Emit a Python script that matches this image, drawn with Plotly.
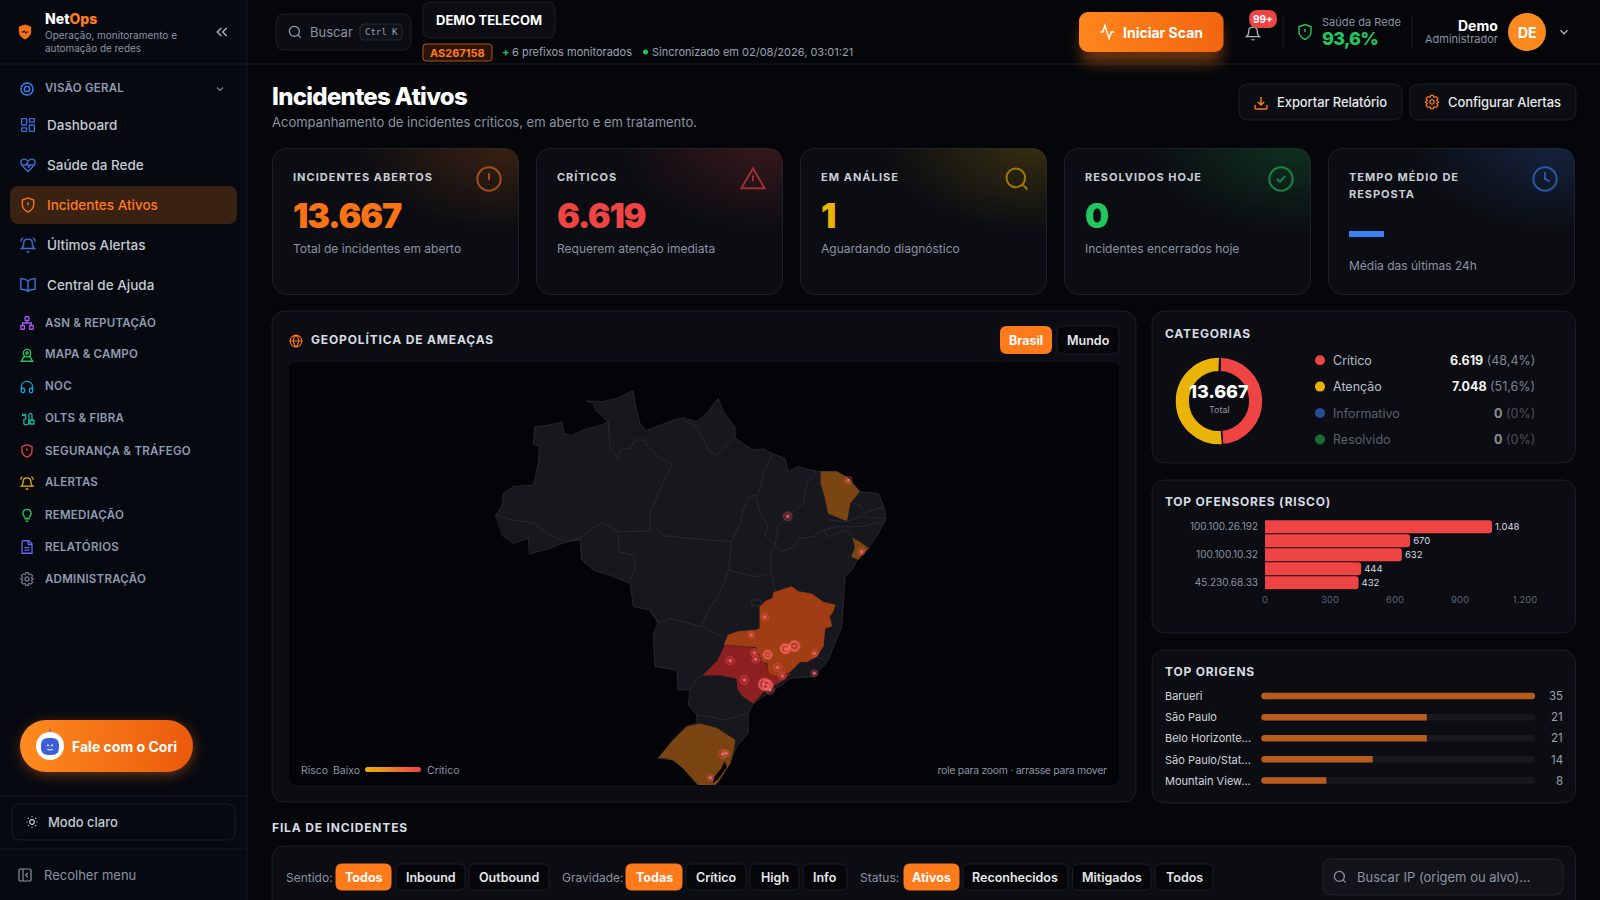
import base64, json, re
import plotly.graph_objects as go

W, H = 1600, 900
FONT = "Inter"

# ---------- data ----------
KPI_TITLES = [["INCIDENTES ABERTOS"], ["CRÍTICOS"], ["EM ANÁLISE"], ["RESOLVIDOS HOJE"], ["TEMPO MÉDIO DE", "RESPOSTA"]]
KPI_VALUES = ["13.667", "6.619", "1", "0", ""]
KPI_SUBS = ["Total de incidentes em aberto", "Requerem atenção imediata", "Aguardando diagnóstico",
            "Incidentes encerrados hoje", "Média das últimas 24h"]

CAT_NAMES = ["Crítico", "Atenção", "Informativo", "Resolvido"]
CAT_VALUES = [6619, 7048, 0, 0]
CAT_PCT = ["48,4%", "51,6%", "0%", "0%"]
CAT_TOTAL = "13.667"

OFF_IPS = ["100.100.26.192", "ofensor 2", "100.100.10.32", "ofensor 4", "45.230.68.33"]
OFF_TICKS = ["100.100.26.192", "100.100.10.32", "45.230.68.33"]
OFF_VALUES = [1048, 670, 632, 444, 432]
OFF_XTICKS = [0, 300, 600, 900, 1200]

ORIGIN_NAMES = ["Barueri", "São Paulo", "Belo Horizonte...", "São Paulo/Stat...", "Mountain View..."]
ORIGIN_VALUES = [35, 21, 21, 14, 8]

NAV_MAIN = ["Dashboard", "Saúde da Rede", "Incidentes Ativos", "Últimos Alertas", "Central de Ajuda"]
NAV_SECTIONS = ["ASN & REPUTAÇÃO", "MAPA & CAMPO", "NOC", "OLTS & FIBRA", "SEGURANÇA & TRÁFEGO",
                "ALERTAS", "REMEDIAÇÃO", "RELATÓRIOS", "ADMINISTRAÇÃO"]

# map outlines, in map units
BR_X = [75,95,100,130,190,205,208,190,195,240,275,282,305,345,395,415,380,368,350,400,440,470,490,495,510,528,570,610,640,680,710,745,760,795,795,850,880,910,945,955,985,1020,1050,1100,1135,1170,1225,1245,1247,1225,1195,1165,1145,1125,1120,1115,1095,1075,1050,1035,960,935,895,850,835,835,800,780,745,712,680,640,610,565,610,650,680,680,655,660,625,620,555,550,565,540,490,480,430,370,335,330,290,240,178,175,130,95]
BR_Y = [440,410,370,350,345,280,230,222,170,165,155,190,197,178,165,155,125,98,93,95,85,70,62,100,160,182,165,150,143,155,130,85,125,172,205,240,237,252,265,305,290,300,305,305,325,365,370,420,450,490,535,565,600,620,700,770,820,870,900,920,925,945,970,1000,1030,1090,1130,1180,1230,1265,1240,1195,1170,1165,1110,1070,1060,1035,1005,960,960,900,890,790,760,720,710,640,620,600,570,510,515,535,552,505,520,495]
MG_X = [910,965,985,1025,1060,1095,1090,1078,1085,1065,1062,1060,1040,1010,990,960,920,905,895,893,875,858,820,790,762,775,805,860,870,870,885,907]
MG_Y = [668,650,665,672,697,705,722,740,768,775,800,828,860,875,875,905,920,918,905,880,875,830,828,825,825,795,785,780,775,710,695,685]
SP_X = [765,810,860,875,890,895,920,960,940,905,880,850,820,805,800,750,700,740]
SP_Y = [825,830,835,875,885,910,920,910,930,950,965,1000,980,960,925,915,915,875]
CE_X = [1052,1100,1135,1168,1140,1130,1100,1075,1065,1052]
CE_Y = [305,305,325,365,400,452,440,430,380,335]
SE_X = [1148,1175,1195,1165,1145,1155]
SE_Y = [505,520,535,568,560,535]
RS_X = [565,610,650,690,740,795,790,780,745,712,680,640,610,590]
RS_Y = [1165,1110,1070,1062,1075,1110,1140,1180,1235,1265,1240,1195,1170,1165]
LAGOON_X = [765,755,735,730,745,770]
LAGOON_Y = [1175,1195,1220,1238,1225,1190]
BORDER_X = [75,130,190,230,290,None, 290,330,370,395,420,445,None, 445,445,490,497,480,None, 445,540,540,570,605,560,530,525,None,
            415,420,445,450,480,495,525,None, 640,680,715,740,790,None, 555,580,680,785,None, 785,810,820,835,865,880,905,None,
            860,870,895,885,915,None, 1040,1010,1000,965,925,915,None, 915,935,975,985,1030,1060,None, 915,900,905,None,
            775,810,860,905,None, 785,775,None, 775,750,710,695,None, 540,565,600,670,695,None, 695,760,None, 905,915,None,
            1060,1075,1130,1150,None, 1150,1170,1180,1240,None, 1075,1130,1170,1245,None, 1060,1100,1170,1240,None, 1040,1065,None,
            660,680,700,None, 680,720,760,835,None, 845,872,872,845,845]
BORDER_Y = [435,450,458,490,515,None, 515,505,475,460,470,485,None, 485,545,555,590,630,None, 485,483,430,360,285,255,225,210,None,
            155,235,265,240,235,210,210,None, 150,170,240,255,205,None, 470,497,507,515,None, 515,460,420,380,375,310,255,None,
            385,430,465,495,525,None, 305,340,400,430,465,525,None, 525,545,530,505,500,480,None, 525,560,610,None,
            600,610,620,610,None, 515,600,None, 600,670,730,770,None, 720,760,745,765,770,None, 770,800,None, 610,670,None,
            480,500,480,505,None, 400,405,430,410,None, 450,455,440,445,None, 480,470,470,455,None, 860,870,None,
            960,925,915,None, 1035,1040,1050,1030,None, 690,690,707,707,690]
PT_X = [1135,953,1175,884,844,781,853,857,893,945,950,973,923,937,1033,1033,823,900,883,892,758,768,721]
PT_Y = [331,439,545,741,795,872,848,868,854,836,837,828,892,918,850,910,930,960,943,945,1152,1150,1223]
PT_RISK = [3,4,2,3,2,4,3,3,5,6,4,7,4,3,2,2,4,4,8,7,4,2,2]

# ---------- helpers ----------
NUM = re.compile(r"-?\d+\.?\d*")

def to_paper(d, fx=lambda v: v, fy=lambda v: v):
    i = [0]
    def rep(m):
        v = float(m.group())
        i[0] += 1
        if i[0] % 2:
            return f"{fx(v) / W:.5f}"
        return f"{1 - fy(v) / H:.5f}"
    return NUM.sub(rep, d)

def rr(x0, y0, x1, y1, r):
    return (f"M{x0+r} {y0} L{x1-r} {y0} Q{x1} {y0} {x1} {y0+r} L{x1} {y1-r} Q{x1} {y1} {x1-r} {y1} "
            f"L{x0+r} {y1} Q{x0} {y1} {x0} {y1-r} L{x0} {y0+r} Q{x0} {y0} {x0+r} {y0} Z")

shapes, annotations, images = [], [], []
FIT = {}   # "text|size" -> [measured width of that label in the reference, anchor]

def box(x0, y0, x1, y1, r=0, fill="rgba(0,0,0,0)", line="rgba(0,0,0,0)", lw=1, layer="below"):
    shapes.append(dict(type="path", xref="paper", yref="paper", path=to_paper(rr(x0, y0, x1, y1, r)),
                       fillcolor=fill, line=dict(color=line, width=lw), layer=layer))

def hline(x0, y0, x1, y1, color, lw=1):
    shapes.append(dict(type="line", xref="paper", yref="paper", x0=x0/W, x1=x1/W, y0=1-y0/H, y1=1-y1/H,
                       line=dict(color=color, width=lw), layer="below"))

def T(x, y, text, size=13, color="#c9ced8", weight=400, anchor="left", family=FONT, fit=None):
    annotations.append(dict(xref="paper", yref="paper", x=x/W, y=1-y/H, text=text, showarrow=False,
                            xanchor=anchor, yanchor="middle", borderpad=0, borderwidth=0,
                            font=dict(family=family, size=size, color=color, weight=weight)))
    if fit:
        FIT[f"{text}|{size}"] = [fit, anchor]

def circ(cx, cy, r):
    k = 0.5523 * r
    return (f"M{cx+r} {cy} C{cx+r} {cy+k} {cx+k} {cy+r} {cx} {cy+r} C{cx-k} {cy+r} {cx-r} {cy+k} {cx-r} {cy} "
            f"C{cx-r} {cy-k} {cx-k} {cy-r} {cx} {cy-r} C{cx+k} {cy-r} {cx+r} {cy-k} {cx+r} {cy} Z")

def icon(d, cx, cy, size, color, lw=1.5, fill="rgba(0,0,0,0)", opacity=1):
    s = size / 24
    shapes.append(dict(type="path", xref="paper", yref="paper",
                       path=to_paper(d, lambda v: cx + (v-12)*s, lambda v: cy + (v-12)*s),
                       fillcolor=fill, line=dict(color=color, width=lw), layer="above", opacity=opacity))

def svg(inner, x, y, w, h):
    s = f'<svg xmlns="http://www.w3.org/2000/svg" width="{w}" height="{h}" viewBox="0 0 {w} {h}">{inner}</svg>'
    images.append(dict(source="data:image/svg+xml;base64," + base64.b64encode(s.encode()).decode(),
                       xref="paper", yref="paper", x=x/W, y=1-y/H, sizex=w/W, sizey=h/H,
                       xanchor="left", yanchor="top", sizing="stretch", layer="above", opacity=1))

SHIELD = "M12 22 C12 22 20 18 20 12 L20 5 L12 2 L4 5 L4 12 C4 18 12 22 12 22 Z"
I_SHIELD_A = SHIELD + " M12 8 L12 12 M12 16 L12 16.2"
I_EYE = circ(12, 12, 9) + " " + circ(12, 12, 4)
I_DASH = rr(3,3,10,12,1) + " " + rr(14,3,21,8,1) + " " + rr(14,12,21,21,1) + " " + rr(3,16,10,21,1)
I_HEART = "M12 21 C5 15 2 12 2 8 C2 3 9 2 12 7 C15 2 22 3 22 8 C22 12 19 15 12 21 Z M3 12 L9 12 L11 9 L13 15 L15 12 L21 12"
I_BELL = "M6 9 C6 2 18 2 18 9 C18 15 21 17 21 17 L3 17 C3 17 6 15 6 9 Z M10 21 C11 22 13 22 14 21"
I_BELL2 = I_BELL + " M2 7 C2 5 3 3 5 2 M22 7 C22 5 21 3 19 2"
I_BOOK = "M12 7 C10 4 6 3 2 3 L2 18 C6 18 10 19 12 21 C14 19 18 18 22 18 L22 3 C18 3 14 4 12 7 Z M12 7 L12 21"
I_NET = rr(9,2,15,8,1) + " " + rr(2,16,8,22,1) + " " + rr(16,16,22,22,1) + " M12 8 L12 12 M5 16 L5 12 L19 12 L19 16"
I_MAP = circ(12, 9, 6) + " " + circ(12, 9, 2) + " M7 15 L3 22 L21 22 L17 15 Z"
I_HEAD = "M3 15 L3 12 C3 0 21 0 21 12 L21 15 " + rr(3,14,8,21,2) + " " + rr(16,14,21,21,2)
I_CABLE = "M5 3 L5 6 M9 3 L9 6 M4 6 L10 6 L10 10 C10 12 8 13 7 13 L7 19 C7 22 15 22 15 18 L15 6 C15 2 20 2 20 6 L20 14 M17 14 L23 14 L23 20 L17 20 Z"
I_BULB = "M8 15 C3 10 6 3 12 3 C18 3 21 10 16 15 C15 16 15 17 15 18 L9 18 C9 17 9 16 8 15 Z M10 22 L14 22"
I_DOC = "M6 2 L15 2 L20 7 L20 22 L4 22 L4 4 Q4 2 6 2 Z M14 2 L14 8 L20 8 M8 13 L16 13 M8 17 L16 17"
GEAR_PTS = "M10 2 L14 2 L15 5 L18 4 L21 7 L19 10 L22 12 L19 14 L21 17 L18 20 L15 19 L14 22 L10 22 L9 19 L6 20 L3 17 L5 14 L2 12 L5 10 L3 7 L6 4 L9 5 Z"
I_GEAR = GEAR_PTS + " " + circ(12, 12, 3.2)
I_CHEV = "M6 9 L12 15 L18 9"
I_DCHEV = "M11 6 L5 12 L11 18 M19 6 L13 12 L19 18"
I_SEARCH = circ(11, 11, 8) + " M21 21 L16.6 16.6"
I_DOWN = "M12 3 L12 15 M7 10 L12 15 L17 10 M3 15 L3 19 Q3 21 5 21 L19 21 Q21 21 21 19 L21 15"
I_ACT = "M2 12 L6 12 L9 3 L15 21 L18 12 L22 12"
I_CHECK = circ(12, 12, 10) + " M8.5 12 L11 14.5 L15.5 9.5"
I_WARN = "M12 3 L22 20 L2 20 Z M12 9 L12 14 M12 17 L12 17.2"
I_CLOCK = circ(12, 12, 10) + " M12 6 L12 12 L16 14"
I_ALERT = circ(12, 12, 10) + " M12 7 L12 13 M12 16.5 L12 16.7"
I_GLOBE = circ(12, 12, 10) + " " + "M12 2 C6 8 6 16 12 22 C18 16 18 8 12 2 Z M2 12 L22 12"
I_SUN = circ(12, 12, 4) + " M12 2 L12 4 M12 20 L12 22 M2 12 L4 12 M20 12 L22 12 M5 5 L6.5 6.5 M17.5 17.5 L19 19 M5 19 L6.5 17.5 M17.5 6.5 L19 5"
I_PANEL = rr(3,3,21,21,2) + " M9 3 L9 21 M16 9 L13 12 L16 15"

# ---------- base ----------
PAGE = "#04060a"
SIDE = "#060910"
CARD = "#0b0d12"
EDGE = "#1c1f27"
MUTED = "#8a93a3"
ORANGE = "#ff7a1a"

box(0, 0, 247, H, fill=SIDE)
hline(247, 0, 247, H, "#171a21")
hline(0, 64, W, 64, "#171a21")

# ---------- sidebar ----------
icon(SHIELD, 25, 32, 17, "#f97316", 1, fill="#f97316")
icon("M7 12 L10 12 L11 10 L13 14 L14 12 L17 12", 25, 32, 17, "#0b0d12", 1)
T(45, 19, 'Net<span style="color:#ff7a1a">Ops</span>', 14, "#ffffff", 800)
T(45, 34.5, "Operação, monitoramento e", 10, MUTED, fit=132)
T(45, 47.5, "automação de redes", 10, MUTED, fit=96)
icon(I_DCHEV, 222, 32, 16, "#aab2c0", 1.4)

icon(I_EYE, 27, 89, 16, "#3b82f6", 1.4)
T(45, 88, "VISÃO GERAL", 11.5, "#8f9bb0", 600, fit=79)
icon(I_CHEV, 220, 89, 12, "#7b8494", 1.2)

box(10, 186, 237, 224, 9, fill="#3a2212")
NAV_ICONS = [I_DASH, I_HEART, I_SHIELD_A, I_BELL2, I_BOOK]
for i, name in enumerate(NAV_MAIN):
    y = 125 + 40 * i
    active = name == "Incidentes Ativos"
    icon(NAV_ICONS[i], 28, y, 17, "#f97316" if active else "#3b6fd4", 1.4)
    T(47, y, name, 13.5, "#ff7a1a" if active else "#c3c9d4", 500)

SEC_ICONS = [I_NET, I_MAP, I_HEAD, I_CABLE, I_SHIELD_A, I_BELL2, I_BULB, I_DOC, I_GEAR]
SEC_COLORS = ["#a855f7", "#22c55e", "#0ea5e9", "#14b8a6", "#ef4444", "#eab308", "#22c55e", "#6366f1", "#6b7280"]
SEC_FIT = [111, 93, 27, 79, 146, 53, 79, 74, 101]
for i, name in enumerate(NAV_SECTIONS):
    y = 322 + 32 * i
    icon(SEC_ICONS[i], 27, y + 1, 15, SEC_COLORS[i], 1.3)
    T(45, y, name, 11.5, "#8f9bb0", 600, fit=SEC_FIT[i])

svg('<defs><linearGradient id="g" x1="0" x2="1"><stop offset="0" stop-color="#ff8a1f"/><stop offset="1" stop-color="#ea5a0c"/></linearGradient>'
    '<filter id="b" x="-20%" y="-50%" width="140%" height="200%"><feGaussianBlur stdDeviation="7"/></filter></defs>'
    '<rect x="22" y="24" width="171" height="50" rx="25" fill="#f97316" opacity=".45" filter="url(#b)"/>'
    '<rect x="20" y="20" width="173" height="52" rx="26" fill="url(#g)"/>', 0, 700, 214, 96)
shapes.append(dict(type="circle", xref="paper", yref="paper", x0=36/W, x1=64/W, y0=1-732/H, y1=1-760/H,
                   fillcolor="#ffffff", line=dict(width=0), layer="above"))
box(41, 738, 59, 755, 7, fill="#3f5fd8", layer="above")
icon("M12 0 L12 -5", 50, 737.5, 12, "#3f5fd8", 1.2)
icon(circ(9, 11, 1) + " " + circ(15, 11, 1) + " M8 17 Q12 19 16 17", 50, 746, 16, "#ffffff", 1)
T(72, 746, "Fale com o Cori", 14, "#ffffff", 700, fit=105)

hline(0, 796, 247, 796, "#171a21")
box(12, 804, 235, 840, 9, line="#1c1f27")
icon(I_SUN, 32, 822, 14, "#c3c9d4", 1.2)
T(48, 822, "Modo claro", 13, "#c3c9d4", 500)
hline(0, 849, 247, 849, "#171a21")
icon(I_PANEL, 25, 875, 16, "#8a93a3", 1.2)
T(44, 875, "Recolher menu", 13, MUTED, 400)

# ---------- top bar ----------
box(276, 14, 411, 50, 9, fill="#0b0d12", line=EDGE)
icon(I_SEARCH, 295, 32, 15, "#9aa2b1", 1.3)
T(310, 32, "Buscar", 13, MUTED)
box(360, 24, 402, 40, 4, fill="#0f1218", line="#262a33")
T(381, 32, "Ctrl K", 9, "#9aa2b1", 400, "center", "DejaVu Sans Mono")
box(423, 2, 555, 38, 8, fill="#0b0d12", line=EDGE)
T(489, 20, "DEMO TELECOM", 13, "#ffffff", 700, "center", fit=106)
box(423, 44, 492, 61, 3, fill="#2a1408", line="#b4521a")
T(457.5, 52.5, "AS267158", 11, ORANGE, 700, "center")
T(502, 52, "+", 11, "#22c55e", 700)
T(512, 52, "6 prefixos monitorados", 11, "#98a2b3")
shapes.append(dict(type="circle", xref="paper", yref="paper", x0=643/W, x1=648/W, y0=1-49.5/H, y1=1-54.5/H,
                   fillcolor="#22c55e", line=dict(width=0), layer="below"))
T(652, 52, "Sincronizado em 02/08/2026, 03:01:21", 11, "#98a2b3")

svg('<defs><linearGradient id="g" x1="0" x2="1"><stop offset="0" stop-color="#ff861c"/><stop offset="1" stop-color="#f2650f"/></linearGradient>'
    '<filter id="b" x="-20%" y="-50%" width="140%" height="200%"><feGaussianBlur stdDeviation="7"/></filter></defs>'
    '<rect x="22" y="22" width="141" height="42" rx="9" fill="#f97316" opacity=".4" filter="url(#b)"/>'
    '<rect x="20" y="12" width="144.5" height="40" rx="9" fill="url(#g)"/>', 1059, 0, 185, 80)
icon(I_ACT, 1107, 32, 17, "#ffffff", 1.5)
T(1163, 32, "Iniciar Scan", 14, "#ffffff", 700, "center", fit=80)

icon(I_BELL, 1253, 33, 17, "#aab2c0", 1.3)
box(1249, 10, 1277, 28, 9, fill="#ef4444", layer="above")
T(1263, 19, "99+", 10, "#ffffff", 700, "center")
hline(1283, 16, 1283, 48, "#171a21")
icon(I_SHIELD_A, 1305, 32, 18, "#22c55e", 1.4)
T(1322, 22, "Saúde da Rede", 11, MUTED, fit=79)
T(1322, 38, "93,6%", 18, "#22c55e", 800, fit=56)
hline(1412, 16, 1412, 48, "#171a21")
T(1498, 25, "Demo", 14, "#ffffff", 700, "right")
T(1498, 39, "Administrador", 11, MUTED, 400, "right")
shapes.append(dict(type="circle", xref="paper", yref="paper", x0=1508/W, x1=1546/W, y0=1-13/H, y1=1-51/H,
                   fillcolor="#fb8a1e", line=dict(width=0), layer="below"))
T(1527, 32, "DE", 14, "#ffffff", 700, "center")
icon(I_CHEV, 1564, 32, 14, "#aab2c0", 1.3)

# ---------- page header ----------
T(272, 96, "Incidentes Ativos", 24, "#ffffff", 800, fit=195)
T(272, 122, "Acompanhamento de incidentes críticos, em aberto e em tratamento.", 13, MUTED, fit=425)
box(1239, 84, 1402, 120, 9, fill="#0b0d12", line=EDGE)
icon(I_DOWN, 1261, 103, 16, ORANGE, 1.4)
T(1277, 102, "Exportar Relatório", 13, "#e5e7eb", 500, fit=110)
box(1410, 84, 1576, 120, 9, fill="#0b0d12", line=EDGE)
icon(I_GEAR, 1432, 102, 16, ORANGE, 1.2)
T(1448, 102, "Configurar Alertas", 13, "#e5e7eb", 500, fit=113)

# ---------- KPI cards ----------
CARD_X = [272, 536, 800, 1064, 1328]
CARD_COLORS = ["#f97316", "#ef4444", "#eab308", "#22c55e", "#3b82f6"]
CARD_ICONS = [I_ALERT, I_WARN, I_SEARCH, I_CHECK, I_CLOCK]
KPI_TITLE_FIT = [[140], [60], [78], [117], [110, 66]]
KPI_VALUE_FIT = [108, 88, None, None, None]
for i, x in enumerate(CARD_X):
    c = CARD_COLORS[i]
    svg(f'<defs><radialGradient id="g" cx="0.95" cy="-0.05" r="0.62"><stop offset="0" stop-color="{c}" stop-opacity=".2"/>'
        f'<stop offset="1" stop-color="{c}" stop-opacity="0"/></radialGradient></defs>'
        f'<rect x=".5" y=".5" width="246" height="146" rx="14" fill="{CARD}" stroke="{EDGE}"/>'
        f'<rect x=".5" y=".5" width="246" height="146" rx="14" fill="url(#g)"/>', x, 148, 247, 147)
    icon(CARD_ICONS[i], x + 217, 179, 28, c, 2, opacity=.6)
    for j, line in enumerate(KPI_TITLES[i]):
        T(x + 21, 177 + 17 * j, line, 11, "#c9ced8", 700, fit=KPI_TITLE_FIT[i][j])
    if KPI_VALUES[i]:
        T(x + 21, 215, KPI_VALUES[i], 34, c, 900, fit=KPI_VALUE_FIT[i])
        T(x + 21, 248, KPI_SUBS[i], 12, MUTED)
    else:
        box(x + 21, 231, x + 56, 237, fill=c, layer="above")
        T(x + 21, 265, KPI_SUBS[i], 12, MUTED)

# ---------- map panel ----------
box(272, 311, 1136, 802, 14, fill=CARD, line=EDGE)
box(289, 362, 1119, 785, 8, fill="#030407")
icon(I_GLOBE, 296, 341, 14, ORANGE, 1.1)
T(311, 339.5, "GEOPOLÍTICA DE AMEAÇAS", 12, "#d7dce5", 700, fit=183)
box(1000, 326, 1052, 354, 7, fill=ORANGE)
T(1026, 340, "Brasil", 12.5, "#ffffff", 700, "center")
box(1057, 326, 1119, 354, 7, fill="#050609", line=EDGE)
T(1088, 340, "Mundo", 12.5, "#e5e7eb", 600, "center")
T(301, 770, "Risco", 10.5, MUTED)
T(333, 770, "Baixo", 10.5, MUTED)
svg('<defs><linearGradient id="g" x1="0" x2="1"><stop offset="0" stop-color="#eab308"/><stop offset="1" stop-color="#ef4444"/></linearGradient></defs>'
    '<rect width="56" height="5" rx="2.5" fill="url(#g)"/>', 365, 767, 56, 5)
T(427, 770, "Crítico", 10.5, MUTED)
T(1107, 770, "role para zoom · arrasse para mover", 10.5, MUTED, 400, "right", fit=169)

# ---------- right panels ----------
box(1152, 311, 1575.5, 463, 14, fill=CARD, line=EDGE)
T(1165, 333, "CATEGORIAS", 12, "#d7dce5", 700, fit=86)
CAT_COLORS = ["#ef4444", "#eab308", "#2a4a96", "#1a6b36"]
for i, name in enumerate(CAT_NAMES):
    y = 360.2 + 26.4 * i
    dim = CAT_VALUES[i] == 0
    shapes.append(dict(type="circle", xref="paper", yref="paper", x0=1315/W, x1=1325/W, y0=1-(y-5)/H, y1=1-(y+5)/H,
                       fillcolor=CAT_COLORS[i], line=dict(width=0), layer="below"))
    T(1333, y, name, 12.5, "#5a606c" if dim else "#b8bfca")
    val = f"{CAT_VALUES[i]:,}".replace(",", ".")
    T(1534.5, y, f'<b>{val}</b> <span style="color:{"#4b505a" if dim else "#7b8494"}">({CAT_PCT[i]})</span>',
      12.5, "#8a8f99" if dim else "#f3f4f6", 400, "right")
T(1219, 392, CAT_TOTAL, 18, "#ffffff", 800, "center")
T(1219, 409.5, "Total", 9, MUTED, 400, "center")

box(1152, 480, 1575.5, 633, 14, fill=CARD, line=EDGE)
T(1165, 501, "TOP OFENSORES (RISCO)", 12, "#d7dce5", 700, fit=166)
box(1152, 650, 1575.5, 803, 14, fill=CARD, line=EDGE)
T(1165, 671, "TOP ORIGENS", 12, "#d7dce5", 700, fit=90)
ROW_Y = [696, 717, 738, 759.5, 780.5]
for y, name, val in zip(ROW_Y, ORIGIN_NAMES, ORIGIN_VALUES):
    T(1165, y, name, 11, "#d1d5db")
    T(1563, y, str(val), 11.5, "#9aa2b1", 400, "right")

# ---------- queue ----------
T(272, 827, "FILA DE INCIDENTES", 12, "#d7dce5", 700, fit=136)
box(272, 846, 1575.5, 930, 14, fill=CARD, line=EDGE)
T(285.5, 877, "Sentido:", 12, MUTED)
T(562, 877, "Gravidade:", 12, MUTED)
T(860, 877, "Status:", 12, MUTED)
CHIPS = [("Todos", 336, 391, True), ("Inbound", 396, 465, False), ("Outbound", 469, 549, False),
         ("Todas", 626, 682, True), ("Crítico", 686, 746, False), ("High", 750, 799, False), ("Info", 803, 847, False),
         ("Ativos", 904, 959, True), ("Reconhecidos", 963, 1068, False), ("Mitigados", 1072.5, 1151, False), ("Todos", 1155, 1213, False)]
for label, x0, x1, on in CHIPS:
    box(x0, 864, x1, 890, 6, fill=ORANGE if on else "#050609", line=ORANGE if on else EDGE)
    T((x0 + x1) / 2, 877, label, 12.5, "#ffffff" if on else "#e5e7eb", 700 if on else 600, "center")
box(1323, 859, 1563, 895, 9, fill="#12141a", line="#23262e")
icon(I_SEARCH, 1340, 877, 15, MUTED, 1.3)
T(1357, 877, "Buscar IP (origem ou alvo)...", 13, MUTED)

# ---------- traces ----------
fig = go.Figure()
NOHOVER = dict(hoverinfo="skip", showlegend=False)
LAND, LINE = "#17181e", "#2c2d34"

def poly(xs, ys, fill):
    fig.add_trace(go.Scatter(x=xs, y=ys, mode="lines", fill="toself", fillcolor=fill,
                             line=dict(color=LINE if fill == LAND else fill, width=0.8), xaxis="x", yaxis="y", **NOHOVER))

poly(BR_X, BR_Y, LAND)
fig.add_trace(go.Scatter(x=BORDER_X, y=BORDER_Y, mode="lines", line=dict(color=LINE, width=0.8), xaxis="x", yaxis="y", **NOHOVER))
poly(MG_X, MG_Y, "#a03d14")
poly(SP_X, SP_Y, "#8c1f20")
poly(CE_X, CE_Y, "#7a4512")
poly(SE_X, SE_Y, "#7a4512")
poly(RS_X, RS_Y, "#7a4512")
poly(LAGOON_X, LAGOON_Y, "#030407")
# halo, then a bright ring on the heaviest sites, then the dot
fig.add_trace(go.Scatter(x=PT_X, y=PT_Y, mode="markers", xaxis="x", yaxis="y",
                         marker=dict(size=[5 + 1.0 * r for r in PT_RISK], color="rgba(239,68,68,0.38)",
                                     line=dict(width=0.7, color="rgba(248,113,113,0.55)")), **NOHOVER))
fig.add_trace(go.Scatter(x=PT_X, y=PT_Y, mode="markers", xaxis="x", yaxis="y",
                         marker=dict(size=[2 + 1.0 * r for r in PT_RISK], color="rgba(0,0,0,0)",
                                     line=dict(width=1.8, color=["rgba(255,110,115,0.95)" if r >= 5 else "rgba(0,0,0,0)" for r in PT_RISK])),
                         **NOHOVER))
fig.add_trace(go.Scatter(x=PT_X, y=PT_Y, mode="markers", xaxis="x", yaxis="y",
                         marker=dict(size=[3.5 if r < 5 else 2.5 for r in PT_RISK], color="#ff7379", line=dict(width=0)), **NOHOVER))

fig.add_trace(go.Pie(labels=CAT_NAMES, values=CAT_VALUES, hole=0.667, sort=False, direction="clockwise", rotation=1,
                     marker=dict(colors=CAT_COLORS, line=dict(color=CARD, width=1.5)), textinfo="none", hoverinfo="skip",
                     showlegend=False, domain=dict(x=[1175/W, 1263/W], y=[1-445/H, 1-357/H])))

fig.add_trace(go.Bar(y=OFF_IPS, x=OFF_VALUES, orientation="h", marker=dict(color="#ef4444", cornerradius=3, line=dict(width=0)),
                     width=0.92, text=OFF_VALUES, texttemplate="%{x:,}", textposition="outside", cliponaxis=False,
                     textfont=dict(family=FONT, size=9.5, color="#d7dce5"), xaxis="x2", yaxis="y2", **NOHOVER))

fig.add_trace(go.Bar(y=ORIGIN_NAMES, x=[max(ORIGIN_VALUES)] * len(ORIGIN_VALUES), orientation="h",
                     marker=dict(color="#17191f", cornerradius=3, line=dict(width=0)), width=0.31, xaxis="x3", yaxis="y3", **NOHOVER))
fig.add_trace(go.Bar(y=ORIGIN_NAMES, x=ORIGIN_VALUES, orientation="h",
                     marker=dict(color="#b85c1e", cornerradius=3, line=dict(width=0)), width=0.31, xaxis="x3", yaxis="y3", **NOHOVER))
fig.add_trace(go.Scatter(y=ORIGIN_NAMES, x=[0] * len(ORIGIN_NAMES), mode="markers", cliponaxis=False,
                         marker=dict(color="#b85c1e", size=6.5, line=dict(width=0)), xaxis="x3", yaxis="y3", **NOHOVER))

hidden = dict(visible=False, fixedrange=True)
fig.update_layout(
    template="none",
    width=W, height=H, margin=dict(l=0, r=0, t=0, b=0, pad=0), autosize=False,
    paper_bgcolor=PAGE, plot_bgcolor="rgba(0,0,0,0)",
    font=dict(family=FONT, color="#c9ced8"), separators=",.", barmode="overlay", showlegend=False,
    shapes=shapes, annotations=annotations, images=images,
    xaxis=dict(domain=[289/W, 1119/W], range=[-543, 1947], **hidden),
    yaxis=dict(domain=[1-785/H, 1-362/H], range=[1245, -24], **hidden),
    xaxis2=dict(domain=[1265/W, 1525/W], range=[0, 1200], tickvals=OFF_XTICKS, tickformat=",", showgrid=False, zeroline=False,
                showline=False, ticks="", ticklabelstandoff=3, tickfont=dict(family=FONT, size=9.5, color="#5b6472"),
                anchor="y2", fixedrange=True),
    yaxis2=dict(domain=[1-589.7/H, 1-519.7/H], autorange="reversed", type="category", tickvals=OFF_TICKS, ticktext=OFF_TICKS,
                showgrid=False, zeroline=False, showline=False, ticks="", ticklen=0, ticklabelstandoff=6,
                tickfont=dict(family=FONT, size=10, color="#8a93a3"), anchor="x2", fixedrange=True),
    xaxis3=dict(domain=[1264.5/W, 1535/W], range=[0, 35], anchor="y3", **hidden),
    yaxis3=dict(domain=[1-791/H, 1-685.5/H], autorange="reversed", type="category", anchor="x3", **hidden),
)

POST = """
document.documentElement.style.margin='0';document.body.style.margin='0';document.body.style.background='#04060a';
var FIT=%s;
document.querySelectorAll('.annotation-text').forEach(function(t){
  var key=t.textContent+'|'+parseFloat(t.style.fontSize);
  var f=FIT[key]; if(!f) return;
  var delta=f[0]-t.getComputedTextLength(); var k=delta/t.textContent.length;
  t.style.letterSpacing=k.toFixed(3)+'px';
  var shift=f[1]==='left'?delta/2:(f[1]==='right'?-delta/2:0);
  t.setAttribute('x',parseFloat(t.getAttribute('x')||0)+shift);
});
""" % json.dumps(FIT, ensure_ascii=False)

fig.write_html("out.html", config=dict(displayModeBar=False, responsive=False), post_script=POST)
